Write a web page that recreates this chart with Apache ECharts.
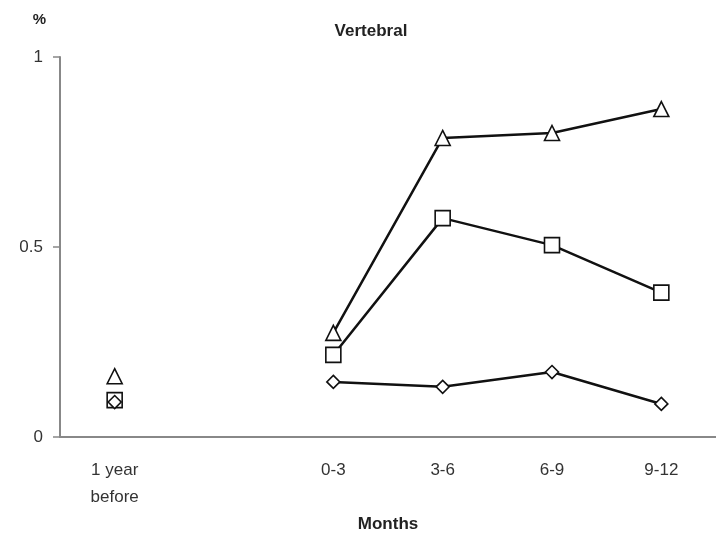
<!DOCTYPE html>
<html><head><meta charset="utf-8">
<script src="https://cdn.jsdelivr.net/npm/echarts@6/dist/echarts.min.js"></script>
<style>html,body{margin:0;padding:0;background:#fff}#c{width:716px;height:555px}</style>
</head><body><div id="c"></div>
<script>
var categories = ["1 year\nbefore", "", "0-3", "3-6", "6-9", "9-12"];
var triangleVals = [0.16, null, 0.274, 0.787, 0.80, 0.863];
var squareVals = [0.097, null, 0.216, 0.576, 0.505, 0.38];
var diamondVals = [0.092, null, 0.145, 0.132, 0.171, 0.087];
var yTicks = [0, 0.5, 1];

var font = "Liberation Sans";
function mk(name, data, symbol, size) {
  return {
    name: name, type: 'line', data: data, symbol: symbol, symbolSize: size,
    connectNulls: false, showSymbol: true,
    lineStyle: {color: '#111', width: 2.5},
    itemStyle: {color: '#fff', borderColor: '#111', borderWidth: 1.6},
    z: 3
  };
}
var chart = echarts.init(document.getElementById('c'));
chart.setOption({
  animation: false,
  backgroundColor: '#fff',
  title: {text: 'Vertebral', left: 366, top: 18, textAlign: 'center',
    textStyle: {fontFamily: font, fontSize: 17, fontWeight: 'bold', color: '#222'}},
  grid: {left: 60, right: 0, top: 57, bottom: 118},
  xAxis: {
    type: 'category', data: categories, boundaryGap: true,
    name: 'Months', nameLocation: 'middle', nameGap: 74,
    nameTextStyle: {fontFamily: font, fontSize: 17, fontWeight: 'bold', color: '#222'},
    axisLine: {lineStyle: {color: '#888', width: 2}},
    axisTick: {show: false},
    axisLabel: {fontFamily: font, fontSize: 17, color: '#333', margin: 20, lineHeight: 27, interval: 0,
      align: 'center'}
  },
  yAxis: {
    type: 'value', min: 0, max: 1, interval: 0.5,
    name: '%', nameLocation: 'end', nameGap: 30,
    nameTextStyle: {fontFamily: font, fontSize: 15, fontWeight: 'bold', color: '#222', align: 'right', padding: [0, 14, 0, 0]},
    axisLine: {show: true, lineStyle: {color: '#888', width: 2}},
    axisTick: {show: true, length: 7, lineStyle: {color: '#888', width: 1.5}},
    splitLine: {show: false},
    axisLabel: {fontFamily: font, fontSize: 17, color: '#333', margin: 17,
      formatter: function (v) { return yTicks.indexOf(v) >= 0 ? String(v) : ''; }}
  },
  series: [
    mk('tri', triangleVals, 'triangle', 15),
    mk('sq', squareVals, 'rect', 15),
    mk('dia', diamondVals, 'diamond', 13)
  ]
});
</script></body></html>
